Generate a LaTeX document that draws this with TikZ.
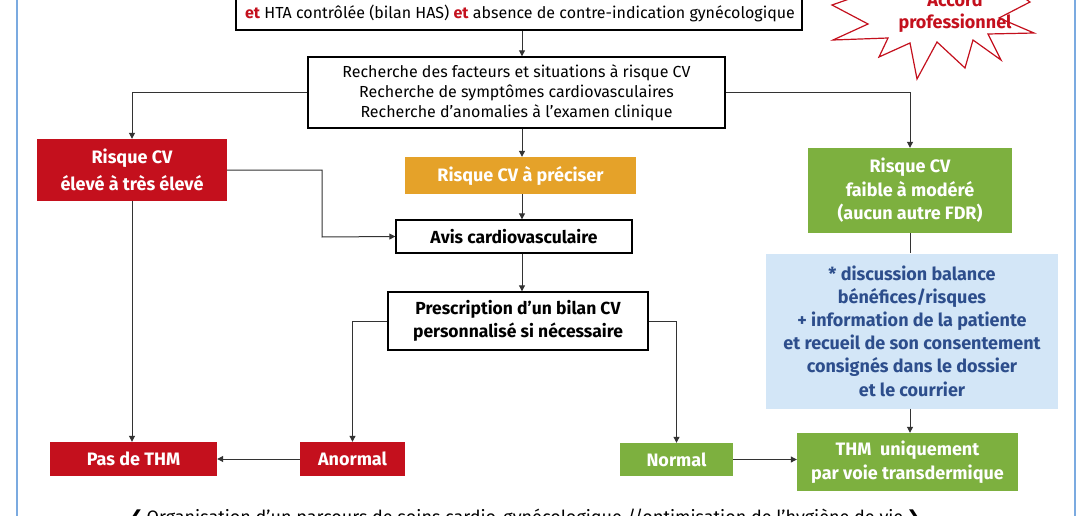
\documentclass[tikz,border=0pt]{standalone}
\usepackage{fontspec}
\setmainfont{Fira Sans}
\newfontfamily\symfont{DejaVu Sans}
\usetikzlibrary{arrows.meta}
\definecolor{cvred}{HTML}{C4101D}
\definecolor{cvorange}{HTML}{E5A229}
\definecolor{cvgreen}{HTML}{7DB03F}
\definecolor{cvlight}{HTML}{D3E6F7}
\definecolor{cvtext}{HTML}{2D4E8C}
\definecolor{cvframe}{HTML}{7BAAE0}
\definecolor{cvline}{HTML}{333333}
\tikzset{
  wbox/.style={draw=black, line width=1.4pt, fill=white, align=center, inner sep=0pt},
  rbox/.style={fill=cvred, text=white, font=\fontsize{18}{27}\selectfont\bfseries, align=center, inner sep=0pt},
  obox/.style={fill=cvorange, text=white, font=\fontsize{18}{24}\selectfont\bfseries, align=center, inner sep=0pt},
  gbox/.style={fill=cvgreen, text=white, font=\fontsize{18}{23.5}\selectfont\bfseries, align=center, inner sep=0pt},
  lbox/.style={fill=cvlight, text=cvtext, font=\fontsize{18}{23.2}\selectfont\bfseries, align=center, inner sep=0pt},
  conn/.style={draw=cvline, line width=1pt},
  arr/.style={conn, -{Triangle[width=6pt,length=6pt]}},
}
\begin{document}
\begin{tikzpicture}[x=1pt,y=-1pt]
\useasboundingbox (0,0) rectangle (1078,516);
\clip (0,0) rectangle (1078,516);
\fill[white] (0,0) rectangle (1078,516);
% frame lines
\draw[cvframe, line width=2.5pt] (17,-5) coordinate (fl1) -- (17,521) coordinate (fl2);
\draw[cvframe, line width=2.5pt] (1075,-5) coordinate (fr1) -- (1075,521) coordinate (fr2);
\coordinate (axis) at (522,0);
\coordinate (raxis) at (910,0);
% top box
\node[wbox, minimum width=566pt, minimum height=60pt] (top) at (519,0) {};
\node[font=\fontsize{16}{18}\selectfont, inner sep=0pt, anchor=base] (toptxt) at (520,18.5)
  {\textcolor{cvred}{\bfseries et} HTA contrôlée (bilan HAS) \textcolor{cvred}{\bfseries et} absence de contre-indication gynécologique};
% box 2
\node[wbox, minimum width=417pt, minimum height=71pt, font=\fontsize{16}{20}\selectfont] (box2) at (516.5,92.5)
  {Recherche des facteurs et situations à risque CV\\Recherche de symptômes cardiovasculaires\\Recherche d’anomalies à l’examen clinique};
% left / middle column
\node[rbox, minimum width=190pt, minimum height=62pt] (red1) at (132,170) {Risque CV\\élevé à très élevé};
\node[obox, minimum width=231pt, minimum height=37pt] (orange) at (520.5,175.5) {Risque CV à préciser};
\node[wbox, minimum width=236pt, minimum height=33pt, font=\fontsize{17.5}{20}\selectfont\bfseries] (avis) at (514,236.5) {Avis cardiovasculaire};
\node[wbox, minimum width=260pt, minimum height=58pt, font=\fontsize{17.5}{23}\selectfont\bfseries] (presc) at (518,321) {Prescription d’un bilan CV\\personnalisé si nécessaire};
\node[rbox, minimum width=167pt, minimum height=34pt] (pas) at (133.5,459) {Pas de THM};
\node[rbox, minimum width=105pt, minimum height=34pt] (anormal) at (352.5,459) {Anormal};
\node[gbox, minimum width=113pt, minimum height=33pt] (normal) at (676.5,459.5) {Normal};
% right column
\node[gbox, minimum width=204pt, minimum height=85pt] (green1) at (910,190.5) {Risque CV\\faible à modéré\\(aucun autre FDR)};
\node[lbox, minimum width=292pt, minimum height=155pt] (blue) at (912,331) {* discussion balance\\bénéfices/risques\\+ information de la patiente\\et recueil de son consentement\\consignés dans le dossier\\et le courrier};
\node[gbox, minimum width=221pt, minimum height=58pt] (thm) at (907.5,462) {THM\ \ uniquement\\par voie transdermique};
% star
\draw[cvred, line width=1.2pt, fill=white] (832,5) -- (868,24) -- (833,40) -- (888,38) -- (879,57) -- (910,43) -- (917,79) -- (937,42) -- (965,68) -- (973,40) -- (1001,60) -- (988,34) -- (1034,33) -- (999,18) -- (1030,2) -- (1005,-15) -- (1020,-40) -- (960,-25) -- (940,-50) -- (910,-25) -- (870,-40) -- (875,-10) -- cycle;
\node[text=cvred, font=\fontsize{18}{22}\selectfont\bfseries, align=center, inner sep=0pt] (accord) at (955,13) {Accord\\professionnel};
% connectors
\draw[arr] (top.south -| axis) -- (box2.north -| axis);
\draw[arr] (box2.west) -| (red1.north);
\draw[arr] (box2.east) -| (green1.north);
\draw[arr] (box2.south -| axis) -- (orange.north -| axis);
\draw[arr] (orange.south -| axis) -- (avis.north -| axis);
\coordinate (elbow1) at (322,237);
\draw[arr] (red1.east) -| (elbow1) -- (avis.west);
\draw[arr] (avis.south -| axis) -- (presc.north -| axis);
\draw[arr] (presc.west) -| (anormal.north);
\draw[arr] (presc.east) -| (normal.north);
\draw[arr] (red1.south) -- (pas.north -| red1.south);
\draw[arr] (anormal.west) -- (pas.east);
\draw[arr] (normal.east) -- (thm.west |- normal.east);
\draw[conn] (green1.south -| raxis) -- (blue.north -| raxis);
\draw[arr] (blue.south -| raxis) -- (thm.north -| raxis);
% bottom text
\node[font=\fontsize{18}{20}\selectfont, anchor=base, inner sep=0pt] (bottom) at (525,523)
  {{\symfont ❮}\,Organisation d’un parcours de soins cardio-gynécologique //optimisation de l’hygiène de vie\,{\symfont ❯}};
\end{tikzpicture}
\end{document}
